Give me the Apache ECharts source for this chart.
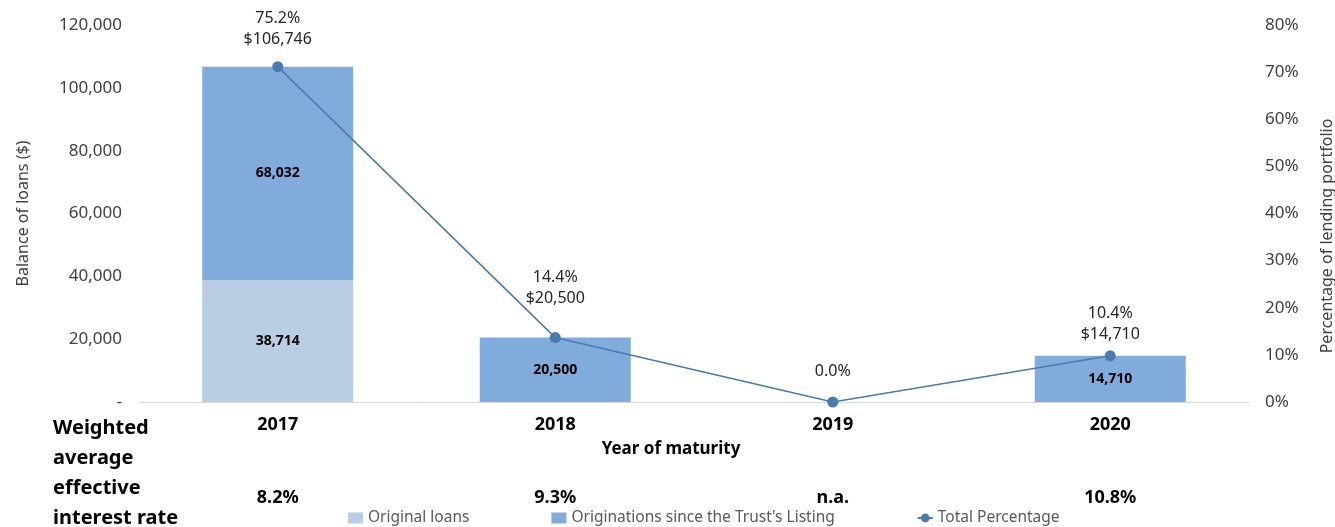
<!DOCTYPE html>
<html>
<head>
<meta charset="utf-8">
<script src="https://cdn.jsdelivr.net/npm/echarts@6/dist/echarts.min.js"></script>
<style>html,body{margin:0;padding:0;background:#fff}#c{width:1335px;height:527px}</style>
</head>
<body>
<div id="c"></div>
<script>
const categories = ['2017', '2018', '2019', '2020'];
const originalLoans = [38714, 0, 0, 0];
const originations = [68032, 20500, 0, 14710];
const totals = [106746, 20500, 0, 14710];
const totalPct = [75.2, 14.4, 0.0, 10.4];
const rates = ['8.2%', '9.3%', 'n.a.', '10.8%'];
const leftTicks = { min: 0, max: 120000, interval: 20000 };
const rightTicks = { min: 0, max: 80, interval: 10 };

// label placement tweaks (styling only)
const labelShift = [1, -11, 18, 7];

const FONT = 'Noto Sans';
const fmt = v => v.toLocaleString('en-US');
const chart = echarts.init(document.getElementById('c'));
chart.setOption({
  animation: false,
  textStyle: { fontFamily: FONT },
  grid: { left: 139, right: 86, top: 25, bottom: 125 },
  legend: {
    left: 343, top: 505, itemGap: 82, itemWidth: 15, itemHeight: 11,
    textStyle: { fontFamily: FONT, fontSize: 15.5, color: '#595959' },
    data: [
      { name: 'Original loans', icon: 'rect' },
      { name: "Originations since the Trust's Listing", icon: 'rect' },
      { name: 'Total Percentage' }
    ]
  },
  xAxis: [{
    type: 'category', data: categories, position: 'bottom',
    axisLine: { lineStyle: { color: '#d9d9d9' } }, axisTick: { show: false },
    axisLabel: { color: '#000', fontWeight: 'bold', fontSize: 18, margin: 14 },
    name: 'Year of maturity', nameLocation: 'middle', nameGap: 39,
    nameTextStyle: { color: '#000', fontWeight: 'bold', fontSize: 17, padding: [0, 46, 0, 0] }
  }, {
    type: 'category', data: rates, position: 'bottom', offset: 87,
    axisLine: { show: false }, axisTick: { show: false },
    axisLabel: { color: '#000', fontWeight: 'bold', fontSize: 18, margin: 0 }
  }],
  yAxis: [{
    type: 'value', min: leftTicks.min, max: leftTicks.max, interval: leftTicks.interval,
    axisLine: { show: false }, axisTick: { show: false }, splitLine: { show: false },
    axisLabel: { color: '#404040', fontSize: 17, margin: 17, formatter: v => v === 0 ? '-' : fmt(v) },
    name: 'Balance of loans ($)', nameLocation: 'middle', nameGap: 108,
    nameTextStyle: { color: '#404040', fontSize: 16 }
  }, {
    type: 'value', min: rightTicks.min, max: rightTicks.max, interval: rightTicks.interval,
    axisLine: { show: false }, axisTick: { show: false }, splitLine: { show: false },
    axisLabel: { color: '#404040', fontSize: 17, margin: 16, formatter: '{value}%' }
  }],
  graphic: [{
    type: 'text', left: 53, top: 413,
    style: { text: 'Weighted\naverage\neffective\ninterest rate', fontFamily: FONT, fontSize: 20, fontWeight: 'bold', lineHeight: 30, fill: '#000' }
  }, {
    type: 'text', x: 1327, y: 236, rotation: Math.PI / 2,
    style: { text: 'Percentage of lending portfolio', fontFamily: FONT, fontSize: 16, fill: '#404040', align: 'center', verticalAlign: 'middle' }
  }],
  series: [{
    name: 'Original loans', type: 'bar', stack: 'a', barWidth: 151, data: originalLoans,
    itemStyle: { color: '#b9cde5' },
    label: { show: true, position: 'inside', fontFamily: FONT, fontWeight: 'bold', fontSize: 14, color: '#000', formatter: p => p.value > 0 ? fmt(p.value) : '' }
  }, {
    name: "Originations since the Trust's Listing", type: 'bar', stack: 'a', barWidth: 151, data: originations,
    itemStyle: { color: '#80abda' },
    label: { show: true, position: 'inside', fontFamily: FONT, fontWeight: 'bold', fontSize: 14, color: '#000', formatter: p => p.value > 0 ? fmt(p.value) : '' }
  }, {
    name: 'Total Percentage', type: 'line', yAxisIndex: 0, z: 5,
    data: totals.map((v, i) => ({ value: v, label: { offset: [0, labelShift[i]] } })),
    symbol: 'circle', symbolSize: 11,
    lineStyle: { color: '#4a7aaf', width: 1.5 }, itemStyle: { color: '#4a7aaf' },
    label: {
      show: true, position: 'top', distance: 12, color: '#262626', fontFamily: FONT, fontSize: 16, lineHeight: 21,
      formatter: p => totalPct[p.dataIndex].toFixed(1) + '%\n' + (totals[p.dataIndex] > 0 ? '$' + fmt(totals[p.dataIndex]) : ' ')
    }
  }]
});
</script>
</body>
</html>
